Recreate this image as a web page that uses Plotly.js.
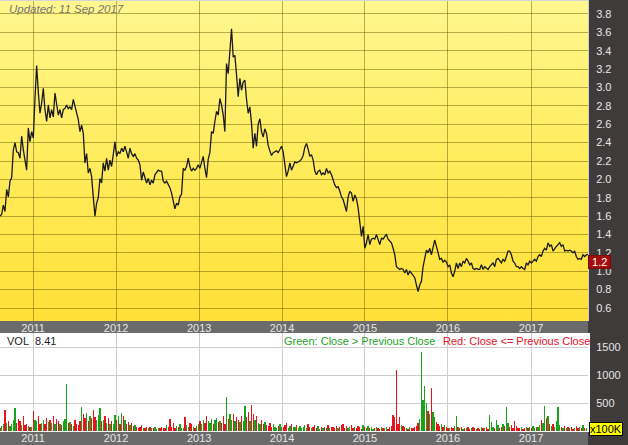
<!DOCTYPE html>
<html>
<head>
<meta charset="utf-8">
<script src="https://cdn.plot.ly/plotly-3.0.1.min.js"></script>
<style>
  html, body { margin: 0; padding: 0; background: #3f3b3b; }
  #wrap { position: relative; width: 628px; height: 445px; overflow: hidden; background: #3f3b3b; }
  .bg { position: absolute; }
  #plot { position: absolute; left: 0; top: 0; width: 628px; height: 445px; }
</style>
</head>
<body>
<div id="wrap">
  <div class="bg" style="left:0;top:0;width:588px;height:1px;background:#d6d6d6"></div>
  <div class="bg" style="left:0;top:1px;width:588px;height:320px;background:linear-gradient(to bottom,#fff78f 0%,#ffec5c 50%,#ffe037 100%)"></div>
  <div class="bg" style="left:0;top:321px;width:588px;height:12px;background:#6b6b6b"></div>
  <div class="bg" style="left:0;top:333px;width:590px;height:99px;background:#ffffff"></div>
  <div class="bg" style="left:0;top:432px;width:588px;height:13px;background:#6b6b6b"></div>
  <div class="bg" style="left:588px;top:0;width:1px;height:321px;background:#cfcfcf"></div>
  <div id="plot"></div>
</div>
<script>
// ---- data ----
const years = ['2011', '2012', '2013', '2014', '2015', '2016', '2017'];
const startDate = '2010-08-08';
const stepDays = 7.334;
const updatedText = 'Updated: 11 Sep 2017';

const close = [
  1.60,1.62,1.72,1.65,1.89,1.81,1.98,2.02,2.32,2.40,
  2.30,2.29,2.23,2.47,2.32,2.19,2.10,2.56,2.41,2.52,
  2.45,2.88,3.24,2.95,2.72,2.83,2.99,2.76,2.63,2.81,
  2.67,2.76,2.68,2.94,2.79,2.70,2.76,2.67,2.76,2.77,
  2.81,2.77,2.79,2.76,2.87,2.80,2.75,2.65,2.52,2.59,
  2.50,2.18,2.28,2.07,2.12,2.03,1.81,1.60,1.74,1.80,
  2.01,1.96,2.18,2.09,2.23,2.10,2.21,2.14,2.27,2.41,
  2.25,2.30,2.28,2.34,2.30,2.36,2.30,2.23,2.34,2.28,
  2.25,2.28,2.23,2.21,2.16,1.99,2.08,2.02,1.96,2.01,
  1.94,1.99,1.96,2.05,2.07,2.10,2.09,2.09,1.98,1.96,
  1.98,1.94,1.91,1.85,1.74,1.68,1.74,1.72,1.81,1.84,
  2.12,2.10,2.14,2.23,2.14,2.09,2.12,2.10,2.12,2.16,
  2.12,2.18,2.25,2.12,2.02,2.22,2.29,2.52,2.50,2.63,
  2.74,2.70,2.88,2.81,2.70,2.52,3.26,3.15,3.42,3.64,
  3.33,3.35,3.14,2.90,3.10,2.97,3.06,3.08,2.87,2.72,
  2.79,2.61,2.34,2.50,2.36,2.60,2.66,2.52,2.46,2.55,
  2.50,2.37,2.31,2.26,2.29,2.30,2.31,2.29,2.32,2.36,
  2.30,2.13,2.03,2.09,2.18,2.10,2.15,2.19,2.18,2.19,
  2.20,2.22,2.26,2.35,2.39,2.33,2.25,2.27,2.21,2.09,
  2.05,2.09,2.10,2.05,2.07,2.05,2.12,2.07,2.09,2.05,
  1.99,1.94,1.91,1.92,1.87,1.81,1.78,1.72,1.65,1.81,
  1.87,1.85,1.76,1.83,1.79,1.69,1.56,1.38,1.49,1.25,
  1.31,1.40,1.29,1.35,1.36,1.35,1.40,1.33,1.29,1.36,
  1.35,1.38,1.40,1.35,1.33,1.31,1.25,1.18,1.05,1.03,
  1.02,1.03,1.02,0.98,1.02,0.96,1.00,0.98,0.96,0.93,
  0.85,0.78,0.85,0.89,1.05,1.14,1.23,1.20,1.25,1.18,
  1.26,1.34,1.27,1.18,1.13,1.14,1.10,1.12,1.10,1.05,
  1.07,0.98,0.94,1.00,1.09,1.03,1.09,1.05,1.11,1.09,
  1.14,1.11,1.07,1.09,1.03,1.02,1.03,1.02,1.02,1.07,
  1.02,1.05,1.03,1.02,1.05,1.07,1.09,1.05,1.13,1.14,
  1.11,1.09,1.13,1.11,1.16,1.22,1.22,1.18,1.11,1.09,
  1.05,1.05,1.03,1.05,1.03,1.02,1.09,1.07,1.11,1.09,
  1.11,1.13,1.11,1.16,1.18,1.16,1.22,1.25,1.23,1.31,
  1.27,1.29,1.22,1.25,1.27,1.29,1.31,1.27,1.29,1.22,
  1.23,1.22,1.23,1.22,1.20,1.22,1.16,1.13,1.14,1.13,
  1.18,1.16,1.18,1.18
];

// volume in units of 100K
const volume = [
  60,90,120,370,150,180,90,130,200,410,
  150,220,180,110,260,100,130,90,70,80,
  350,200,180,260,120,150,200,130,240,160,
  190,140,260,120,210,170,130,100,180,220,
  833,150,160,120,90,200,130,110,180,430,
  300,240,320,180,260,230,380,250,200,280,
  410,170,200,260,150,230,130,180,120,290,
  200,260,130,330,270,190,120,160,110,140,
  90,110,70,60,80,100,60,50,70,60,
  80,50,60,70,40,60,50,70,45,60,
  100,70,210,80,150,60,90,70,130,50,
  60,250,110,80,150,130,70,60,90,120,
  180,120,190,150,260,170,140,220,130,200,
  230,160,180,150,260,130,607,220,310,190,
  300,170,250,200,160,260,180,440,250,340,
  170,458,300,190,270,150,130,200,120,160,
  110,90,140,80,120,70,60,90,130,80,
  70,100,140,60,90,120,70,80,110,60,
  90,50,70,100,60,130,80,50,70,110,
  60,90,40,70,50,80,60,100,45,70,
  80,50,90,60,70,100,130,60,90,50,
  70,110,60,80,50,90,70,40,100,80,
  60,90,50,70,40,60,80,50,30,70,
  60,50,80,40,70,90,285,255,1090,130,
  250,110,90,70,60,40,80,50,60,70,
  90,150,220,1418,557,812,497,358,300,770,
  333,250,160,120,90,130,80,100,70,60,
  50,80,60,90,267,70,50,80,40,60,
  50,70,40,60,80,50,30,60,40,70,
  50,60,80,40,285,160,70,50,200,100,
  60,80,130,90,436,150,70,100,60,180,
  90,60,50,70,40,60,80,50,70,60,
  90,60,80,70,110,200,150,448,240,260,
  130,90,120,80,180,436,100,70,60,90,
  50,70,60,80,40,60,90,50,70,60,
  100,60,50,8.41
];

// ---- derived ----
const DAY = 86400000;
const t0 = Date.parse(startDate + 'T00:00:00Z');
const dates = close.map((_, i) => new Date(t0 + i * stepDays * DAY).toISOString().slice(0, 19));
const volColors = volume.map((_, i) => (i > 0 && close[i] > close[i - 1]) ? '#19a319' : '#e8131b');
const tickDates = years.map(y => y + '-01-01');
const xRange = [dates[0], dates[dates.length - 1]];

const W = 628, H = 445;
const px = x => x / W;
const py = y => 1 - y / H;

const priceTrace = {
  type: 'scatter', mode: 'lines', x: dates, y: close,
  xaxis: 'x', yaxis: 'y',
  line: { color: '#1b1b1b', width: 1.3 },
  hoverinfo: 'skip'
};
const volTrace = {
  type: 'bar', x: dates, y: volume,
  xaxis: 'x2', yaxis: 'y2',
  marker: { color: volColors, line: { width: 0 } },
  width: stepDays * DAY * 0.8,
  hoverinfo: 'skip'
};

const tickFont = { family: 'Liberation Sans, Arial, sans-serif', size: 11, color: '#e6e6e6' };
const xDomain = [0, px(588)];

const layout = {
  width: W, height: H,
  margin: { l: 0, r: 0, t: 0, b: 0 },
  paper_bgcolor: 'rgba(0,0,0,0)',
  plot_bgcolor: 'rgba(0,0,0,0)',
  showlegend: false,
  bargap: 0,
  xaxis: {
    type: 'date', domain: xDomain, anchor: 'y', range: xRange,
    tickvals: tickDates, ticktext: years,
    showgrid: true, gridcolor: 'rgba(95,80,0,0.45)', gridwidth: 1,
    zeroline: false, showline: false,
    ticks: 'outside', ticklen: 0, ticklabelstandoff: -3, tickfont: tickFont
  },
  yaxis: {
    domain: [py(321), py(1)], anchor: 'x', side: 'right',
    range: [0.6 - 13 / 92, 3.8 + 13 / 92],
    tick0: 0.6, dtick: 0.2, tickformat: '.1f',
    showgrid: true, gridcolor: 'rgba(95,80,0,0.45)', gridwidth: 1,
    zeroline: false, showline: false,
    ticks: 'outside', ticklen: 5, tickcolor: 'rgba(0,0,0,0)',
    tickfont: tickFont
  },
  xaxis2: {
    type: 'date', domain: xDomain, anchor: 'y2', range: xRange,
    tickvals: tickDates, ticktext: years,
    showgrid: true, gridcolor: '#cdcdcd', gridwidth: 1,
    zeroline: false, showline: false,
    ticks: 'outside', ticklen: 0, ticklabelstandoff: -3, tickfont: tickFont
  },
  yaxis2: {
    domain: [py(431), py(333)], anchor: 'x2', side: 'right',
    range: [0, 1750],
    tickvals: [500, 1000, 1500],
    showgrid: true, gridcolor: '#cdcdcd', gridwidth: 1,
    zeroline: false, showline: false,
    ticks: 'outside', ticklen: 5, tickcolor: 'rgba(0,0,0,0)',
    tickfont: tickFont
  },
  annotations: [
    { xref: 'paper', yref: 'paper', x: px(7), y: py(9), xanchor: 'left', yanchor: 'middle',
      text: updatedText, showarrow: false,
      font: { family: 'Liberation Sans, Arial, sans-serif', size: 11.5, color: '#777777', style: 'italic' } },
    { xref: 'paper', yref: 'paper', x: px(5), y: py(341), xanchor: 'left', yanchor: 'middle',
      text: 'VOL', showarrow: false,
      font: { family: 'Liberation Sans, Arial, sans-serif', size: 11, color: '#222222' } },
    { xref: 'paper', yref: 'paper', x: px(33), y: py(341), xanchor: 'left', yanchor: 'middle',
      text: String(volume[volume.length - 1]), showarrow: false,
      font: { family: 'Liberation Sans, Arial, sans-serif', size: 11, color: '#222222' } },
    { xref: 'paper', yref: 'paper', x: px(282), y: py(341), xanchor: 'left', yanchor: 'middle',
      text: 'Green: Close &gt; Previous Close', showarrow: false,
      font: { family: 'Liberation Sans, Arial, sans-serif', size: 11, color: '#1f9f1f' } },
    { xref: 'paper', yref: 'paper', x: px(441), y: py(341), xanchor: 'left', yanchor: 'middle',
      text: 'Red: Close &lt;= Previous Close', showarrow: false,
      font: { family: 'Liberation Sans, Arial, sans-serif', size: 11, color: '#e8102a' } },
    { xref: 'paper', yref: 'y', x: px(588), y: close[close.length - 1], xanchor: 'left', yanchor: 'middle',
      yshift: -7,
      text: '&nbsp;' + close[close.length - 1].toFixed(1) + '&nbsp;', showarrow: false,
      bgcolor: '#a30d0d', borderpad: 0, borderwidth: 1, bordercolor: '#7a0a0a',
      font: { family: 'Liberation Sans, Arial, sans-serif', size: 11, color: '#ffffff' } },
    { xref: 'paper', yref: 'paper', x: px(589), y: py(429), xanchor: 'left', yanchor: 'middle',
      text: 'x100K', showarrow: false,
      bgcolor: '#ffff00', borderpad: 0, borderwidth: 1, bordercolor: '#000000',
      font: { family: 'Liberation Sans, Arial, sans-serif', size: 11, color: '#000000' } }
  ]
};

Plotly.newPlot('plot', [volTrace, priceTrace], layout, { staticPlot: true, displayModeBar: false });
</script>
</body>
</html>
